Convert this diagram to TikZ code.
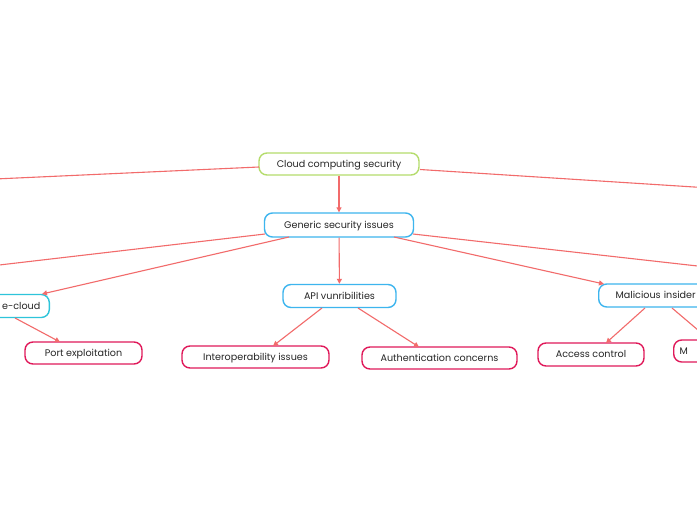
\documentclass[tikz,border=0pt]{standalone}
\usepackage{fontspec}
\setmainfont{Poppins}
\usetikzlibrary{arrows.meta}
\definecolor{lnred}{HTML}{F26B6B}
\definecolor{grn}{HTML}{B5DC6C}
\definecolor{blu}{HTML}{3DB5EE}
\definecolor{cyn}{HTML}{2EC4DA}
\definecolor{crm}{HTML}{E0195A}
\tikzset{
  box/.style={draw, line width=1.4pt, rounded corners=8pt, minimum height=22pt, inner xsep=10pt, text height=7.5pt, text depth=1pt, font=\fontsize{9.6}{11}\selectfont, text=black!85},
  topbox/.style={box, draw=grn},
  midbox/.style={box, draw=blu},
  cybox/.style={box, draw=cyn},
  leafbox/.style={box, draw=crm},
  link/.style={draw=lnred, line width=1.1pt},
  arr/.style={link, -{Triangle[length=5pt,width=5pt]}}
}
\begin{document}
\begin{tikzpicture}[x=1pt,y=-1pt]
\useasboundingbox (0,0) rectangle (697,520);
\clip (0,0) rectangle (697,520);
\fill[white] (0,0) rectangle (697,520);
\node[topbox, minimum width=160pt] (cloud) at (339,164) {Cloud computing security};
\node[midbox, minimum width=149pt, minimum height=24pt] (gen) at (339,225) {Generic security issues};
\node[cybox, anchor=east, text width=100pt, align=right, inner xsep=9pt, minimum height=23pt] (ecl) at (50,306) {e-cloud};
\node[leafbox, minimum width=117pt] (port) at (83.5,353) {Port exploitation};
\node[midbox, minimum width=113pt, minimum height=23pt] (api) at (339.5,296) {API vunribilities};
\node[leafbox, minimum width=147pt] (inter) at (255.5,357) {Interoperability issues};
\node[leafbox, minimum width=155pt] (auth) at (439.5,358) {Authentication concerns};
\node[midbox, anchor=west, text width=100pt, align=left, inner xsep=17pt, minimum height=23pt] (mal) at (598,295.5) {Malicious insider};
\node[leafbox, minimum width=106pt, minimum height=23pt] (acc) at (591,354.5) {Access control};
\node[leafbox, anchor=west, text width=60pt, align=left, inner xsep=6pt] (mm) at (673,351) {M};
\coordinate (offL1) at (-5,179);
\coordinate (offR1) at (702,187.5);
\coordinate (offL2) at (-5,265.5);
\coordinate (offR2) at (702,266.5);
\coordinate (offMM) at (705,336);
\draw[link] (259,167) -- (offL1);
\draw[link] (420,169.5) -- (offR1);
\draw[arr] (cloud) -- (gen);
\draw[link] (265,234) -- (offL2);
\draw[arr] (289,237) -- (42,294);
\draw[arr] (gen) -- (api);
\draw[arr] (394,237) -- (604,284);
\draw[link] (413,234) -- (offR2);
\draw[arr] (15,318) -- (60,342);
\draw[arr] (322,308) -- (273,346);
\draw[arr] (358,308) -- (419,347);
\draw[arr] (645,308) -- (606,343);
\draw[link] (672,308) -- (offMM);
\end{tikzpicture}
\end{document}
